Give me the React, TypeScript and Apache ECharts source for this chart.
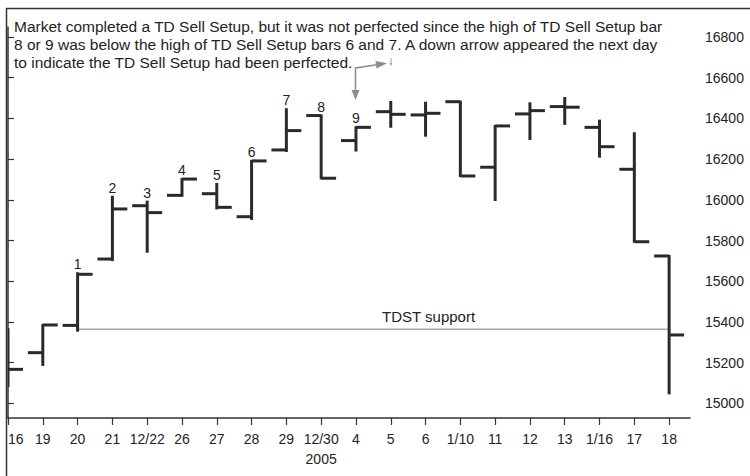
import { useEffect, useRef } from 'react';
import * as echarts from 'echarts';

const categories = ['16', '19', '20', '21', '12/22', '26', '27', '28', '29', '12/30', '4', '5', '6', '1/10', '11', '12', '13', '1/16', '17', '18'];
const opens = [15300, 15249, 15383, 15709, 15971, 16022, 16030, 15917, 16245, 16414, 16291, 16433, 16417, 16482, 16160, 16422, 16458, 16356, 16150, 15724];
const highs = [15364, 15385, 15639, 16015, 15991, 16102, 16078, 16191, 16445, 16414, 16356, 16481, 16477, 16482, 16363, 16474, 16500, 16389, 16327, 15724];
const lows = [15085, 15189, 15357, 15704, 15745, 16020, 15958, 15906, 16240, 16106, 16242, 16359, 16315, 16117, 15999, 16299, 16373, 16212, 15794, 15049];
const closes = [15167, 15385, 15634, 15955, 15937, 16102, 15963, 16191, 16340, 16106, 16356, 16420, 16425, 16117, 16363, 16438, 16455, 16261, 15794, 15336];
const setupCounts = [0, 0, 1, 2, 3, 4, 5, 6, 7, 8, 9, 0, 0, 0, 0, 0, 0, 0, 0, 0];
const yTicks = [15000, 15200, 15400, 15600, 15800, 16000, 16200, 16400, 16600, 16800];
const xTicks = categories.map((_, i) => i);
const tdstLevel = 15364;
const tdstStart = 2;
const tdstEnd = 19;
const yearLabelIndex = 9;
const yearLabel = '2005';
const noteLines = [
  'Market completed a TD Sell Setup, but it was not perfected since the high of TD Sell Setup bar',
  '8 or 9 was below the high of TD Sell Setup bars 6 and 7. A down arrow appeared the next day',
  'to indicate the TD Sell Setup had been perfected.',
];

const FONT = '"Liberation Sans", Arial, sans-serif';
const INK = '#232323';
const GRAY = '#8c8c8c';

export default function App() {
  const ref = useRef<HTMLDivElement>(null);
  useEffect(() => {
    if (!ref.current) return;
    const chart = echarts.init(ref.current, undefined, { renderer: 'svg' });
    const data = categories.map((_, i) => [i, opens[i], highs[i], lows[i], closes[i], setupCounts[i]]);
    chart.setOption({
      animation: false,
      backgroundColor: '#ffffff',
      grid: { left: 8, right: 60, top: 27, bottom: 58 },
      xAxis: {
        type: 'value',
        min: 0,
        max: 19.6,
        interval: 1,
        splitLine: { show: false },
        axisLine: { show: true, lineStyle: { color: '#333', width: 1.5 } },
        axisTick: { show: true, length: 7, customValues: xTicks, lineStyle: { color: '#333', width: 1.2 } },
        axisLabel: {
          customValues: xTicks,
          margin: 11,
          color: INK,
          fontFamily: FONT,
          fontSize: 14,
          lineHeight: 20,
          alignMinLabel: 'left',
          formatter: (v: number) => {
            const i = Math.round(v);
            const c = categories[i] ?? '';
            return i === yearLabelIndex ? c + '\n' + yearLabel : c;
          },
        },
      },
      yAxis: {
        type: 'value',
        position: 'right',
        min: 14928,
        max: 16849,
        splitLine: { show: false },
        axisLine: { show: true, lineStyle: { color: '#333', width: 1.5 } },
        axisTick: { show: true, length: 6, customValues: yTicks, lineStyle: { color: '#333', width: 1.2 } },
        axisLabel: {
          customValues: yTicks,
          margin: 15,
          color: INK,
          fontFamily: FONT,
          fontSize: 14,
          formatter: (v: number) => String(v),
        },
      },
      series: [
        {
          type: 'line',
          data: [[tdstStart, tdstLevel], [tdstEnd, tdstLevel]],
          symbol: 'none',
          silent: true,
          lineStyle: { color: '#a8a8a8', width: 1.5 },
          z: 1,
        },
        {
          type: 'custom',
          clip: true,
          z: 3,
          data,
          renderItem: (params: any, api: any) => {
            const x = api.value(0);
            const pO = api.coord([x, api.value(1)]);
            const pH = api.coord([x, api.value(2)]);
            const pL = api.coord([x, api.value(3)]);
            const pC = api.coord([x, api.value(4)]);
            const w = api.size([1, 0])[0] * 0.43;
            const style = { stroke: '#2a2a2a', lineWidth: 3, lineCap: 'butt' };
            const children: any[] = [
              { type: 'line', shape: { x1: pH[0], y1: pH[1] - 1, x2: pL[0], y2: pL[1] + 1 }, style },
              { type: 'line', shape: { x1: pO[0] - w, y1: pO[1], x2: pO[0], y2: pO[1] }, style },
              { type: 'line', shape: { x1: pC[0], y1: pC[1], x2: pC[0] + w, y2: pC[1] }, style },
            ];
            const n = api.value(5);
            if (n > 0) {
              children.push({
                type: 'text',
                x: pH[0],
                y: pH[1] - 9,
                style: { text: String(n), fill: INK, fontSize: 14, fontFamily: FONT, align: 'center', verticalAlign: 'middle' },
              });
            }
            return { type: 'group', children };
          },
        },
      ],
      graphic: [
        { type: 'line', shape: { x1: 6, y1: 8.5, x2: 750, y2: 8.5 }, style: { stroke: '#333', lineWidth: 1.5 } },
        { type: 'line', shape: { x1: 6.5, y1: 8, x2: 6.5, y2: 476 }, style: { stroke: '#333', lineWidth: 1.5 } },
        {
          type: 'text',
          left: 14,
          top: 17,
          style: { text: noteLines.join('\n'), fill: INK, fontSize: 15.5, lineHeight: 18, fontFamily: FONT },
        },
        {
          type: 'text',
          left: 382,
          top: 309,
          style: { text: 'TDST support', fill: INK, fontSize: 15, fontFamily: FONT },
        },
        { type: 'polyline', shape: { points: [[355.5, 93], [355.5, 68], [377, 64.8]] }, style: { stroke: GRAY, lineWidth: 1.5, fill: 'none' } },
        { type: 'polygon', shape: { points: [[351.5, 90], [359.5, 90], [355.5, 100]] }, style: { fill: GRAY } },
        { type: 'polygon', shape: { points: [[375.5, 61], [376.5, 68.5], [387, 63.2]] }, style: { fill: GRAY } },
        { type: 'line', shape: { x1: 391, y1: 58, x2: 391, y2: 64 }, style: { stroke: '#a0a0a0', lineWidth: 1 } },
        { type: 'polygon', shape: { points: [[389.5, 63], [392.5, 63], [391, 66]] }, style: { fill: '#a0a0a0' } },
      ],
    });
    return () => chart.dispose();
  }, []);
  return <div ref={ref} style={{ width: 750, height: 476, position: 'absolute', left: 0, top: 0 }} />;
}
